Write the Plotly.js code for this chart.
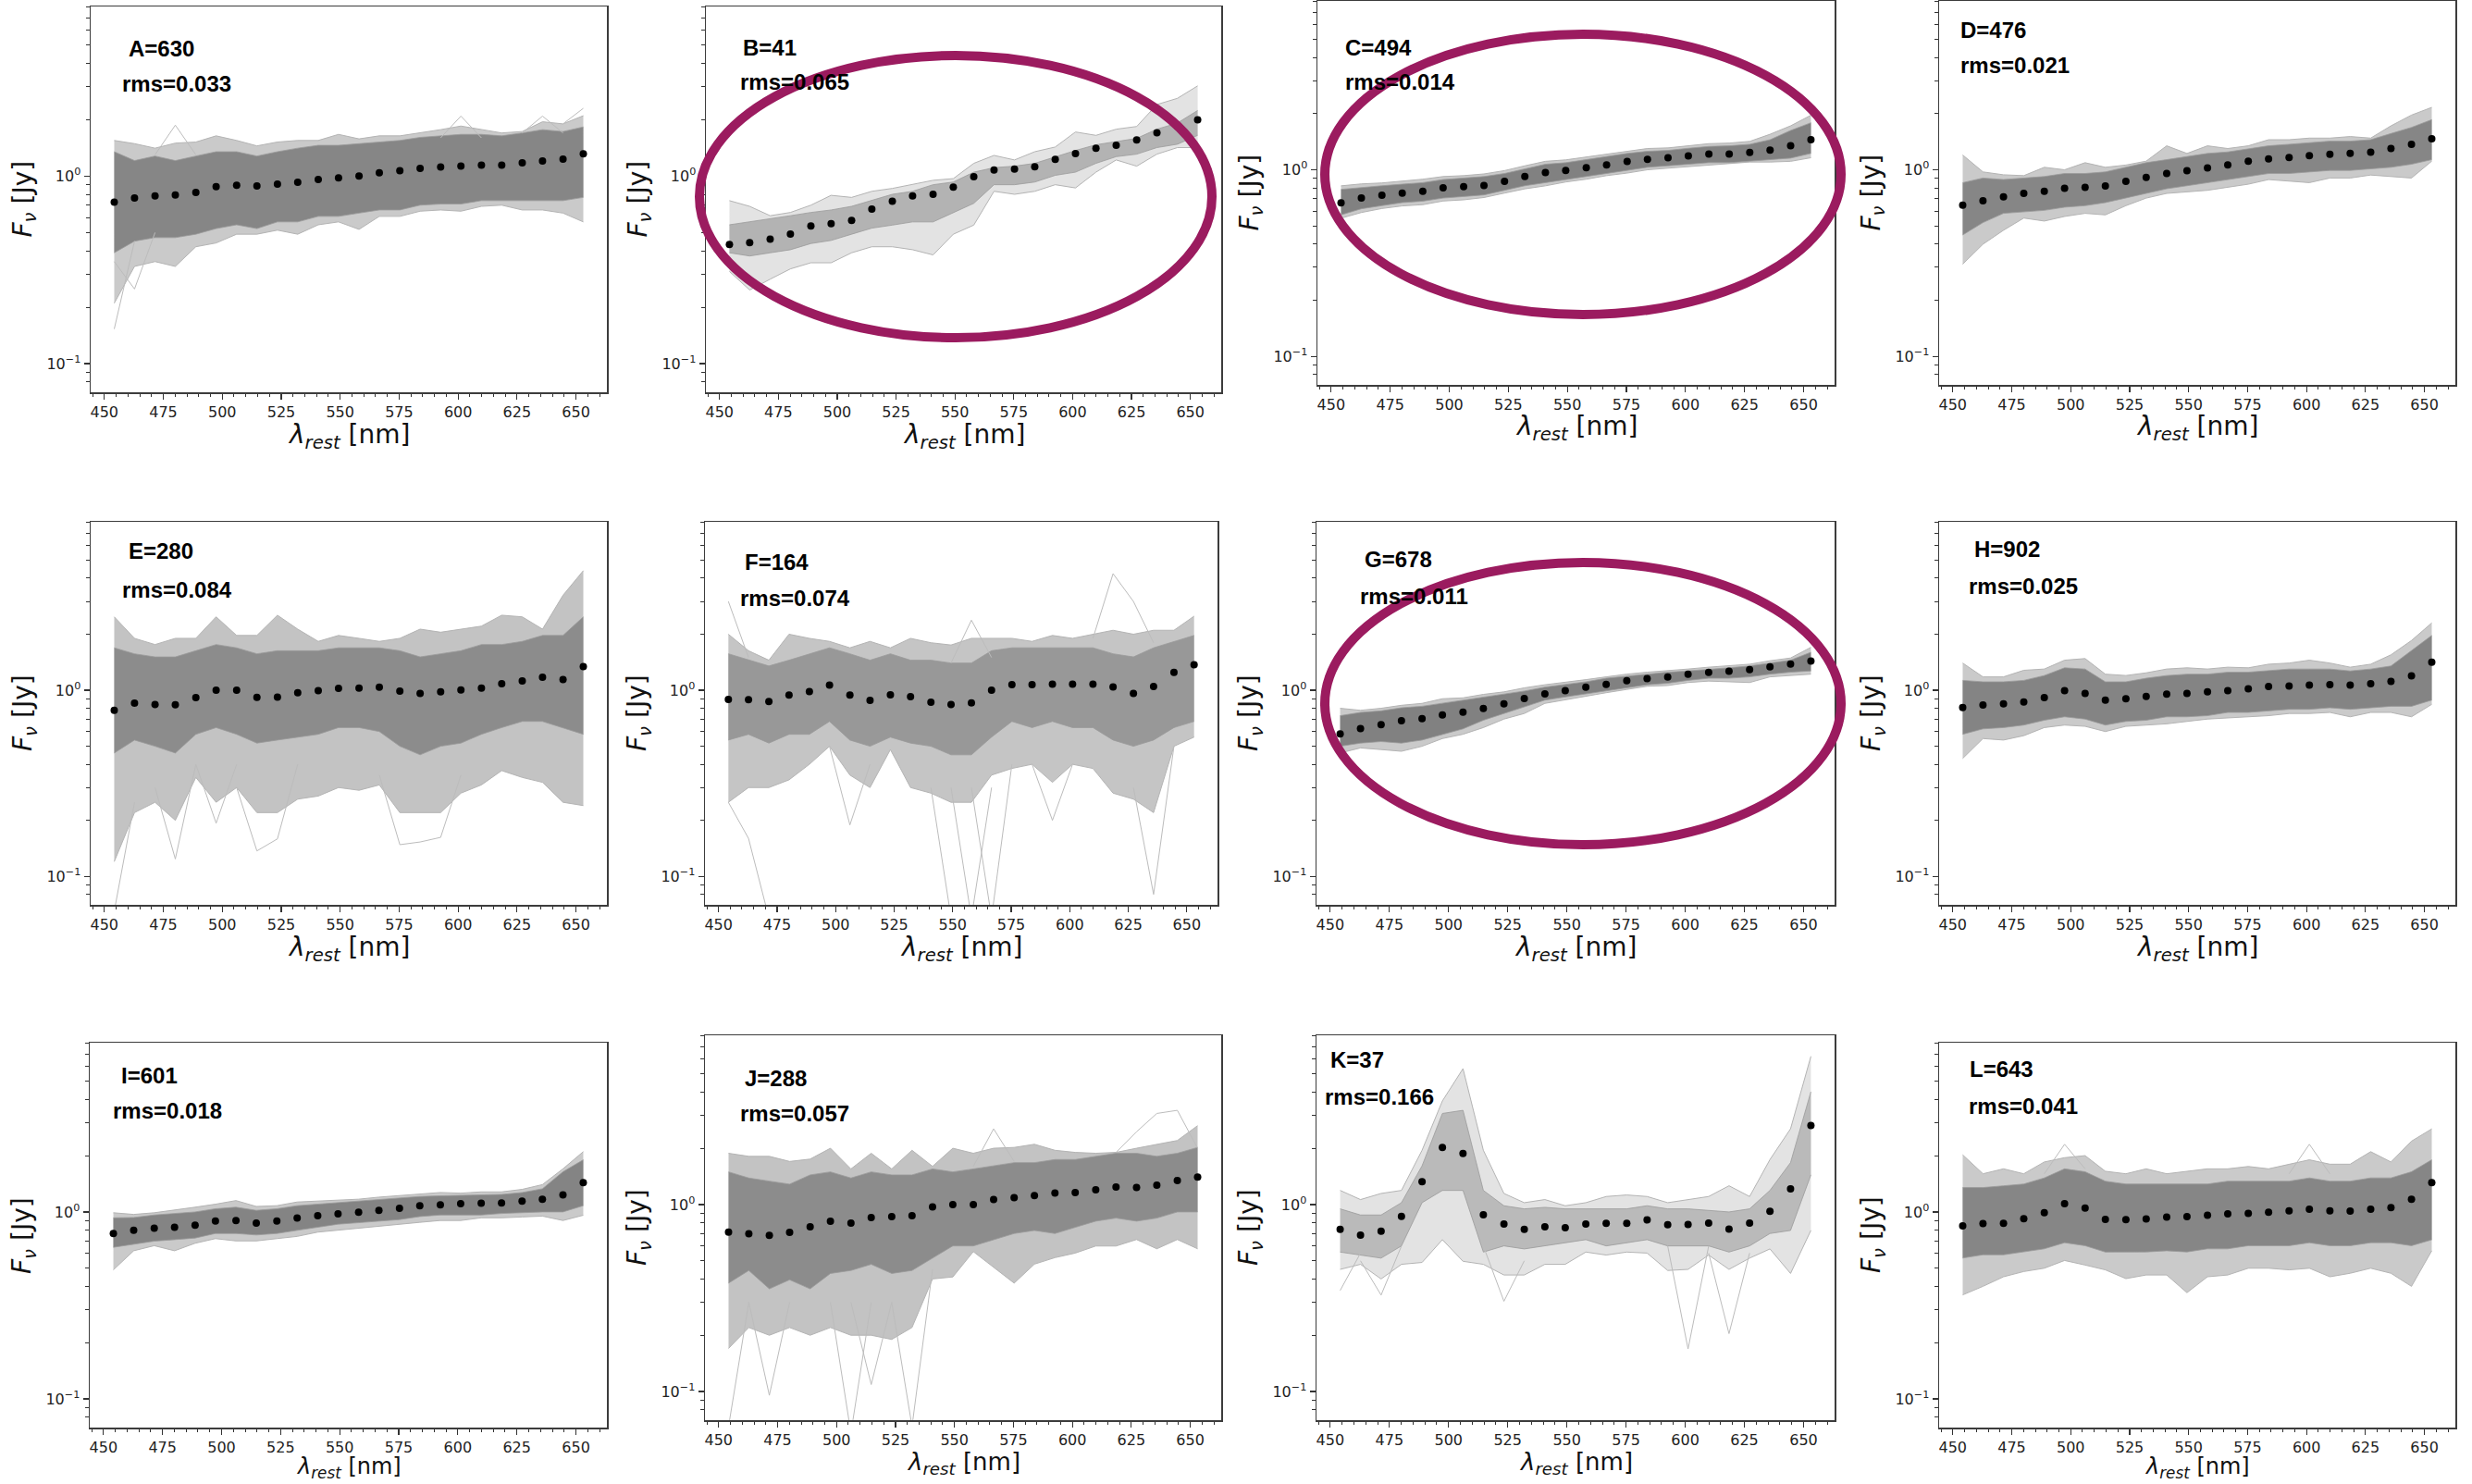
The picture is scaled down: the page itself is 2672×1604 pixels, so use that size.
<!DOCTYPE html>
<html><head><meta charset="utf-8">
<script src="https://cdn.plot.ly/plotly-3.0.1.min.js"></script>
<style>html,body{margin:0;padding:0;background:#fff}#chart{width:2672px;height:1604px}</style>
</head><body><div id="chart"></div>
<script>
// ---------- data ----------
const wl = [454.2,462.8,471.5,480.1,488.8,497.4,506.1,514.7,523.4,532.0,540.7,549.3,558.0,566.6,575.3,583.9,592.6,601.2,609.9,618.5,627.2,635.8,644.5,653.1];

const panelLetters = ['A','B','C','D','E','F','G','H','I','J','K','L'];
const panelCounts = [630,41,494,476,280,164,678,902,601,288,37,643];
const panelRms = ['0.033','0.065','0.014','0.021','0.084','0.074','0.011','0.025','0.018','0.057','0.166','0.041'];

// median spectra (black dots)
const medA = [0.727,0.764,0.785,0.794,0.818,0.879,0.893,0.886,0.906,0.927,0.959,0.978,1.0,1.042,1.07,1.099,1.12,1.133,1.146,1.146,1.177,1.204,1.232,1.314];
const medB = [0.432,0.442,0.461,0.491,0.542,0.557,0.581,0.668,0.735,0.784,0.799,0.873,0.992,1.079,1.091,1.121,1.228,1.319,1.408,1.462,1.560,1.702,1.84,1.996];
const medC = [0.664,0.705,0.730,0.750,0.767,0.800,0.812,0.824,0.866,0.920,0.966,0.992,1.027,1.062,1.108,1.137,1.159,1.186,1.213,1.213,1.237,1.274,1.344,1.449];
const medD = [0.647,0.682,0.716,0.747,0.767,0.796,0.806,0.818,0.866,0.910,0.956,0.989,1.023,1.062,1.112,1.142,1.164,1.19,1.209,1.223,1.242,1.299,1.370,1.466];
const medE = [0.780,0.852,0.839,0.836,0.913,1.0,1.0,0.916,0.919,0.970,0.996,1.023,1.027,1.039,0.989,0.962,0.981,1.004,1.027,1.083,1.121,1.174,1.143,1.341];
const medF = [0.892,0.889,0.869,0.941,0.985,1.067,0.941,0.882,0.944,0.923,0.862,0.839,0.855,1.0,1.071,1.071,1.079,1.079,1.079,1.043,0.962,1.047,1.247,1.372];
const medG = [0.582,0.623,0.653,0.686,0.704,0.737,0.763,0.798,0.846,0.902,0.955,0.996,1.039,1.075,1.126,1.156,1.178,1.219,1.247,1.266,1.291,1.336,1.383,1.436];
const medH = [0.808,0.833,0.846,0.865,0.913,0.996,0.962,0.885,0.899,0.927,0.952,0.962,0.981,0.996,1.019,1.047,1.055,1.067,1.071,1.067,1.083,1.117,1.196,1.415];
const medI = [0.767,0.797,0.818,0.828,0.850,0.893,0.899,0.872,0.893,0.927,0.956,0.977,0.996,1.019,1.046,1.079,1.091,1.108,1.112,1.116,1.142,1.168,1.232,1.433];
const medJ = [0.713,0.697,0.684,0.711,0.761,0.815,0.796,0.853,0.862,0.872,0.970,1.0,1.0,1.063,1.087,1.116,1.151,1.16,1.2,1.241,1.232,1.27,1.344,1.402];
const medK = [0.736,0.687,0.721,0.863,1.324,2.018,1.877,0.882,0.787,0.736,0.761,0.752,0.787,0.793,0.793,0.827,0.779,0.782,0.796,0.738,0.796,0.92,1.213,2.65];
const medL = [0.843,0.866,0.869,0.92,0.992,1.108,1.05,0.913,0.91,0.917,0.938,0.945,0.959,0.977,0.981,0.996,1.015,1.035,1.015,1.011,1.035,1.054,1.168,1.433];

// dense core of the spectra bundle (upper / lower edge)
const coreHiA = [1.35,1.21,1.28,1.21,1.28,1.35,1.35,1.28,1.35,1.41,1.46,1.46,1.49,1.52,1.55,1.61,1.64,1.67,1.67,1.64,1.70,1.77,1.73,1.83];
const coreLoA = [0.39,0.45,0.47,0.47,0.49,0.525,0.55,0.525,0.57,0.57,0.61,0.61,0.635,0.66,0.66,0.70,0.71,0.71,0.74,0.74,0.74,0.74,0.74,0.77];
const coreHiB = [0.55,0.57,0.59,0.615,0.64,0.66,0.69,0.74,0.80,0.83,0.90,0.93,1.05,1.11,1.13,1.17,1.27,1.37,1.47,1.53,1.59,1.78,1.92,2.24];
const coreLoB = [0.39,0.375,0.39,0.405,0.437,0.454,0.49,0.528,0.548,0.57,0.57,0.64,0.716,0.90,0.90,0.93,1.01,1.05,1.17,1.27,1.31,1.42,1.48,1.65];
const coreHiC = [0.785,0.805,0.821,0.837,0.853,0.886,0.903,0.920,0.955,1.011,1.071,1.091,1.133,1.177,1.223,1.256,1.27,1.304,1.334,1.344,1.37,1.449,1.625,1.787];
const coreLoC = [0.573,0.618,0.642,0.667,0.679,0.705,0.719,0.733,0.776,0.821,0.853,0.886,0.920,0.955,0.992,1.031,1.05,1.071,1.091,1.091,1.112,1.133,1.155,1.223];
const coreHiD = [0.853,0.903,0.886,0.903,0.92,0.955,0.955,0.974,1.031,1.091,1.133,1.177,1.223,1.246,1.294,1.344,1.37,1.396,1.423,1.423,1.449,1.564,1.687,1.856];
const coreLoD = [0.447,0.521,0.584,0.595,0.606,0.63,0.642,0.667,0.705,0.747,0.791,0.821,0.853,0.886,0.92,0.955,0.955,0.974,0.992,0.992,1.011,1.031,1.071,1.133];
const coreHiE = [1.69,1.57,1.51,1.51,1.63,1.76,1.69,1.57,1.63,1.63,1.63,1.69,1.69,1.69,1.63,1.51,1.57,1.63,1.76,1.76,1.83,1.97,1.97,2.48];
const coreLoE = [0.46,0.54,0.50,0.46,0.58,0.63,0.58,0.52,0.54,0.56,0.58,0.63,0.63,0.60,0.50,0.45,0.50,0.52,0.58,0.63,0.68,0.68,0.63,0.58];
const coreHiF = [1.57,1.45,1.35,1.45,1.57,1.69,1.57,1.45,1.57,1.45,1.45,1.40,1.40,1.63,1.69,1.69,1.69,1.69,1.69,1.57,1.51,1.69,1.83,1.97];
const coreLoF = [0.54,0.58,0.52,0.58,0.58,0.68,0.54,0.50,0.56,0.52,0.50,0.45,0.45,0.56,0.68,0.63,0.68,0.63,0.63,0.54,0.50,0.54,0.63,0.68];
const coreHiG = [0.73,0.76,0.775,0.805,0.82,0.85,0.885,0.92,0.955,0.99,1.04,1.07,1.11,1.16,1.19,1.22,1.25,1.27,1.30,1.32,1.35,1.40,1.45,1.60];
const coreLoG = [0.50,0.52,0.53,0.52,0.54,0.58,0.62,0.69,0.75,0.82,0.885,0.92,0.955,0.99,1.03,1.07,1.09,1.13,1.16,1.16,1.18,1.22,1.25,1.27];
const coreHiH = [1.13,1.11,1.11,1.13,1.20,1.32,1.30,1.11,1.11,1.16,1.20,1.22,1.22,1.25,1.25,1.27,1.30,1.30,1.30,1.27,1.30,1.35,1.63,1.97];
const coreLoH = [0.58,0.62,0.63,0.65,0.69,0.72,0.70,0.65,0.68,0.69,0.72,0.72,0.73,0.76,0.76,0.775,0.79,0.79,0.805,0.79,0.805,0.82,0.82,0.885];
const coreHiI = [0.93,0.934,0.963,0.98,1.0,1.04,1.06,1.02,1.04,1.08,1.10,1.12,1.14,1.16,1.19,1.21,1.22,1.23,1.23,1.24,1.27,1.33,1.64,1.90];
const coreLoI = [0.647,0.672,0.698,0.711,0.725,0.767,0.767,0.753,0.767,0.797,0.828,0.86,0.876,0.893,0.91,0.945,0.963,0.963,0.963,0.981,0.992,1.0,1.0,1.08];
const coreHiJ = [1.495,1.386,1.334,1.285,1.44,1.495,1.386,1.495,1.44,1.44,1.55,1.495,1.55,1.61,1.675,1.675,1.74,1.74,1.81,1.88,1.88,1.81,1.88,2.02];
const coreLoJ = [0.38,0.444,0.354,0.396,0.354,0.428,0.444,0.479,0.428,0.444,0.517,0.601,0.601,0.649,0.70,0.727,0.70,0.755,0.815,0.846,0.815,0.846,0.913,0.913];
const coreHiK = [0.948,0.879,0.879,1.023,1.61,3.07,3.19,1.19,0.985,0.948,0.966,0.948,0.948,0.948,0.948,0.985,0.948,0.948,0.93,0.913,0.948,1.19,1.675,4.01];
const coreLoK = [0.557,0.537,0.517,0.601,1.023,1.19,1.19,0.557,0.601,0.579,0.601,0.625,0.649,0.601,0.625,0.649,0.601,0.601,0.601,0.557,0.601,0.70,0.727,1.44];
const coreHiL = [1.35,1.35,1.38,1.41,1.52,1.70,1.64,1.46,1.41,1.41,1.41,1.41,1.41,1.46,1.46,1.46,1.46,1.52,1.46,1.46,1.52,1.52,1.64,1.90];
const coreLoL = [0.567,0.59,0.59,0.61,0.635,0.685,0.66,0.61,0.61,0.611,0.62,0.611,0.635,0.635,0.66,0.66,0.66,0.685,0.66,0.66,0.685,0.685,0.66,0.71];

// outer extent of the thinner spectra (upper / lower edge)
const outHiA = [1.55,1.49,1.41,1.50,1.52,1.64,1.55,1.45,1.52,1.55,1.55,1.67,1.58,1.64,1.64,1.70,1.77,1.85,1.77,1.70,1.73,1.95,1.90,2.10];
const outLoA = [0.21,0.33,0.35,0.33,0.42,0.44,0.49,0.49,0.515,0.49,0.55,0.57,0.52,0.61,0.61,0.65,0.66,0.65,0.69,0.70,0.66,0.66,0.635,0.57];
const outHiB = [0.74,0.69,0.615,0.64,0.70,0.79,0.77,0.83,0.86,0.90,0.95,0.97,1.17,1.29,1.22,1.35,1.43,1.72,1.65,1.78,1.84,2.41,2.60,3.03];
const outLoB = [0.31,0.247,0.282,0.32,0.345,0.345,0.39,0.42,0.42,0.405,0.38,0.49,0.548,0.83,0.80,0.83,0.90,0.865,1.05,1.22,1.13,1.31,1.42,1.42];
const outHiC = [0.82,0.84,0.85,0.87,0.89,0.92,0.93,0.95,0.99,1.05,1.11,1.13,1.17,1.21,1.26,1.30,1.31,1.35,1.38,1.39,1.42,1.55,1.72,1.96];
const outLoC = [0.55,0.59,0.62,0.64,0.65,0.68,0.69,0.71,0.75,0.79,0.82,0.86,0.89,0.93,0.96,1.00,1.02,1.04,1.06,1.08,1.10,1.10,1.11,1.16];
const outHiD = [1.20,0.974,0.94,0.93,1.031,1.0,1.091,1.031,1.06,1.112,1.344,1.223,1.344,1.30,1.344,1.449,1.449,1.478,1.478,1.507,1.478,1.72,1.964,2.16];
const outLoD = [0.312,0.399,0.474,0.551,0.531,0.562,0.584,0.573,0.642,0.705,0.747,0.761,0.776,0.806,0.837,0.886,0.869,0.853,0.903,0.903,0.937,0.92,0.903,1.112];
const outHiE = [2.48,1.90,1.76,1.90,1.90,2.48,1.97,1.97,2.53,2.13,1.83,1.97,1.90,1.83,1.90,2.13,2.05,2.13,2.21,2.53,2.48,2.13,3.24,4.39];
const outLoE = [0.12,0.22,0.25,0.20,0.34,0.25,0.30,0.22,0.22,0.26,0.27,0.30,0.29,0.31,0.22,0.22,0.22,0.28,0.31,0.37,0.34,0.32,0.25,0.24];
const outHiF = [2.0,1.63,1.45,2.0,1.90,1.83,1.69,1.83,1.69,1.9,1.8,1.75,1.9,1.90,1.90,1.83,1.97,1.90,2.0,2.1,2.0,2.1,2.1,2.5];
const outLoF = [0.25,0.30,0.30,0.33,0.40,0.50,0.35,0.30,0.48,0.30,0.28,0.25,0.25,0.35,0.38,0.40,0.32,0.40,0.38,0.28,0.26,0.22,0.50,0.56];
const outHiG = [0.80,0.78,0.80,0.83,0.85,0.90,0.91,0.95,0.98,1.03,1.07,1.10,1.14,1.18,1.22,1.25,1.28,1.30,1.33,1.35,1.38,1.44,1.49,1.70];
const outLoG = [0.46,0.49,0.48,0.47,0.50,0.55,0.58,0.63,0.70,0.75,0.85,0.89,0.93,0.97,1.01,1.05,1.06,1.10,1.12,1.11,1.10,1.18,1.20,1.22];
const outHiH = [1.40,1.18,1.18,1.28,1.30,1.45,1.48,1.22,1.20,1.24,1.30,1.32,1.30,1.33,1.32,1.38,1.40,1.45,1.40,1.33,1.38,1.55,1.85,2.30];
const outLoH = [0.43,0.55,0.54,0.57,0.63,0.65,0.64,0.60,0.64,0.65,0.66,0.68,0.70,0.71,0.72,0.73,0.75,0.75,0.76,0.72,0.76,0.76,0.72,0.84];
const outHiI = [0.99,0.97,0.99,1.02,1.06,1.10,1.15,1.07,1.08,1.13,1.14,1.15,1.17,1.20,1.22,1.25,1.27,1.26,1.28,1.28,1.32,1.40,1.70,2.10];
const outLoI = [0.49,0.62,0.66,0.62,0.68,0.72,0.70,0.70,0.72,0.74,0.78,0.80,0.82,0.84,0.86,0.88,0.90,0.90,0.93,0.93,0.94,0.95,0.90,0.96];
const outHiJ = [1.88,1.81,1.81,1.70,1.75,2.0,1.55,1.88,1.55,1.95,1.6,2.0,1.88,2.0,2.02,2.1,1.95,1.90,1.88,1.90,2.0,2.1,2.2,2.64];
const outLoJ = [0.17,0.22,0.20,0.22,0.20,0.22,0.20,0.20,0.19,0.22,0.40,0.41,0.56,0.46,0.38,0.48,0.52,0.55,0.60,0.60,0.65,0.58,0.65,0.58];
const outHiK = [1.19,1.063,1.146,1.19,1.95,3.58,5.33,1.95,1.146,1.023,1.063,0.985,1.023,1.104,1.125,1.104,1.023,1.063,1.104,1.26,1.104,1.74,2.54,6.2];
const outLoK = [0.45,0.479,0.40,0.479,0.49,0.649,0.497,0.479,0.42,0.42,0.479,0.479,0.557,0.537,0.557,0.55,0.444,0.45,0.537,0.45,0.517,0.579,0.428,0.727];
const outHiL = [2.02,1.60,1.70,1.60,1.85,1.95,2.0,1.65,1.60,1.70,1.60,1.65,1.70,1.70,1.75,1.70,1.80,1.90,1.80,1.80,2.10,1.85,2.39,2.78];
const outLoL = [0.36,0.40,0.45,0.48,0.50,0.55,0.52,0.49,0.44,0.46,0.46,0.37,0.45,0.46,0.50,0.50,0.49,0.50,0.45,0.47,0.50,0.47,0.40,0.62];

// isolated outlier spectra segments (x, y; null separates segments)
const spikeXA = [454.2,462.8,null,454.2,462.8,471.5,null,471.5,480.1,488.8,null,592.6,601.2,609.9,null,627.2,635.8,644.5,null,644.5,653.1];
const spikeYA = [0.153,0.45,null,0.35,0.25,0.5,null,1.3,1.87,1.3,null,1.6,2.09,1.6,null,1.7,2.09,1.7,null,1.9,2.3];
const spikeXE = [454.2,462.8,null,471.5,480.1,488.8,null,506.1,514.7,523.4,532.0,null,566.6,575.3,583.9,592.6,601.2,null,488.8,497.4,506.1];
const spikeYE = [0.065,0.25,null,0.30,0.124,0.40,null,0.30,0.137,0.159,0.40,null,0.35,0.148,0.153,0.162,0.35,null,0.4,0.193,0.4];
const spikeXF = [454.2,462.8,471.5,null,540.7,549.3,null,549.3,558.0,566.6,null,558.0,566.6,575.3,null,627.2,635.8,644.5,null,609.9,618.5,627.2,635.8,null,454.2,462.8,null,549.3,558.0,566.6,null,497.4,506.1,514.7,null,583.9,592.6,601.2];
const spikeYF = [0.25,0.16,0.06,null,0.3,0.06,null,0.3,0.06,0.3,null,0.3,0.06,0.4,null,0.3,0.08,0.5,null,1.9,4.23,3.0,1.8,null,3.0,1.5,null,1.4,2.38,1.5,null,0.5,0.189,0.4,null,0.4,0.20,0.4];
const spikeXJ = [454.2,462.8,null,462.8,471.5,480.1,null,497.4,506.1,514.7,null,506.1,514.7,523.4,null,523.4,532.0,540.7,null,618.5,627.2,635.8,644.5,653.1,null,558.0,566.6,575.3];
const spikeYJ = [0.065,0.3,null,0.3,0.0955,0.3,null,0.3,0.06,0.3,null,0.3,0.109,0.3,null,0.3,0.065,0.45,null,1.9,2.45,3.07,3.19,2.0,null,1.6,2.54,1.7];
const spikeXK = [592.6,601.2,609.9,null,609.9,618.5,627.2,null,514.7,523.4,532.0,null,462.8,471.5,480.1,null,454.2,462.8];
const spikeYK = [0.6,0.169,0.6,null,0.55,0.204,0.55,null,0.6,0.304,0.5,null,0.5,0.328,0.6,null,0.347,0.55];
const spikeXL = [592.6,601.2,609.9,null,488.8,497.4,506.1];
const spikeYL = [1.6,2.3,1.6,null,1.6,2.3,1.7];

const yTickVals = [0.1, 1];
const yTickText = ['10<sup>\u22121</sup>', '10<sup>0</sup>'];
const yMinorVals = [0.08,0.09,0.2,0.3,0.4,0.5,0.6,0.7,0.8,0.9,2,3,4,5,6,7,8];

// ---------- assembly ----------
const medians = [medA,medB,medC,medD,medE,medF,medG,medH,medI,medJ,medK,medL];
const coreHis = [coreHiA,coreHiB,coreHiC,coreHiD,coreHiE,coreHiF,coreHiG,coreHiH,coreHiI,coreHiJ,coreHiK,coreHiL];
const coreLos = [coreLoA,coreLoB,coreLoC,coreLoD,coreLoE,coreLoF,coreLoG,coreLoH,coreLoI,coreLoJ,coreLoK,coreLoL];
const outHis = [outHiA,outHiB,outHiC,outHiD,outHiE,outHiF,outHiG,outHiH,outHiI,outHiJ,outHiK,outHiL];
const outLos = [outLoA,outLoB,outLoC,outLoD,outLoE,outLoF,outLoG,outLoH,outLoI,outLoJ,outLoK,outLoL];
const spikesX = [spikeXA,[],[],[],spikeXE,spikeXF,[],[],[],spikeXJ,spikeXK,spikeXL];
const spikesY = [spikeYA,[],[],[],spikeYE,spikeYF,[],[],[],spikeYJ,spikeYK,spikeYL];

// layout geometry (pixels): [left, right, top, bottom]
const W = 2672, H = 1604;
const boxes = [[98,656,7,424],[763,1320,7,424],[1424,1983,1,416],[2096,2654,1,416],
               [98,656,564,978],[762,1316,564,978],[1423,1983,564,978],[2096,2654,564,978],
               [97,656,1127,1543],[762,1320,1119,1535],[1423,1983,1119,1535],[2096,2654,1127,1543]];
// [labelX, labelY, rmsX, rmsY]
const labelPos = [[137,53,130,90],[801,52,798,88],[1452,52,1452,88],[2117,33,2117,70],
                  [137,595,130,637],[803,608,798,647],[1473,605,1468,645],[2132,593,2126,633],
                  [129,1162,120,1200],[803,1165,798,1203],[1436,1145,1430,1185],[2127,1155,2126,1195]];
const coreFill = ['#868686','rgba(140,140,140,0.55)','#818181','#868686','rgba(128,128,128,0.82)','rgba(135,135,135,0.72)',
                  '#818181','#848484','#848484','rgba(128,128,128,0.82)','rgba(145,145,145,0.5)','#868686'];
const outFill = ['rgba(150,150,150,0.5)','rgba(185,185,185,0.4)','rgba(150,150,150,0.5)','rgba(150,150,150,0.5)',
                 'rgba(145,145,145,0.55)','rgba(150,150,150,0.55)','rgba(150,150,150,0.5)','rgba(150,150,150,0.5)',
                 'rgba(150,150,150,0.5)','rgba(145,145,145,0.55)','rgba(185,185,185,0.4)','rgba(150,150,150,0.5)'];

const traces = [];
const layout = {
  width: W, height: H, margin: {l:0,r:0,t:0,b:0},
  paper_bgcolor: '#ffffff', plot_bgcolor: '#ffffff', showlegend: false,
  annotations: [], shapes: []
};
const px = v => v / W, py = v => 1 - v / H;

for (let k = 0; k < 12; k++) {
  const n = k + 1;
  const xa = 'x' + n, ya = 'y' + n;
  const [l, r, t, b] = boxes[k];
  const lightLine = {color: '#b4b4b4', width: 1};
  traces.push({x: wl, y: outLos[k], xaxis: xa, yaxis: ya, mode: 'lines', line: lightLine, hoverinfo: 'skip'});
  traces.push({x: wl, y: outHis[k], xaxis: xa, yaxis: ya, mode: 'lines', line: lightLine, fill: 'tonexty', fillcolor: outFill[k], hoverinfo: 'skip'});
  traces.push({x: wl, y: coreLos[k], xaxis: xa, yaxis: ya, mode: 'lines', line: {color: '#9a9a9a', width: 0.8}, hoverinfo: 'skip'});
  traces.push({x: wl, y: coreHis[k], xaxis: xa, yaxis: ya, mode: 'lines', line: {color: '#9a9a9a', width: 0.8}, fill: 'tonexty', fillcolor: coreFill[k], hoverinfo: 'skip'});
  if (spikesX[k].length) {
    traces.push({x: spikesX[k], y: spikesY[k], xaxis: xa, yaxis: ya, mode: 'lines', connectgaps: false, line: {color: '#bcbcbc', width: 1}, hoverinfo: 'skip'});
  }
  traces.push({x: wl, y: medians[k], xaxis: xa, yaxis: ya, mode: 'markers', marker: {color: '#000', size: 8}, hoverinfo: 'skip'});

  const suffix = n === 1 ? '' : String(n);
  layout['xaxis' + suffix] = {
    domain: [px(l), px(r)], anchor: ya, range: [444.2, 663.1],
    tickmode: 'linear', tick0: 450, dtick: 25,
    ticks: 'outside', ticklen: 6, tickwidth: 1.2, tickcolor: '#333',
    minor: {dtick: 5, tick0: 450, ticks: 'outside', ticklen: 3.5, tickwidth: 1, tickcolor: '#333'},
    showline: true, mirror: true, linecolor: '#3c3c3c', linewidth: 1.5,
    showgrid: false, zeroline: false,
    tickfont: {family: 'DejaVu Sans', size: 16, color: '#222'}
  };
  layout['yaxis' + suffix] = {
    domain: [py(b), py(t)], anchor: xa, type: 'log', range: [-1.153, 0.905],
    tickmode: 'array', tickvals: yTickVals, ticktext: yTickText,
    ticks: 'outside', ticklen: 6, tickwidth: 1.2, tickcolor: '#333',
    minor: {tickmode: 'array', tickvals: yMinorVals, ticks: 'outside', ticklen: 3.5, tickwidth: 1, tickcolor: '#333'},
    showline: true, mirror: true, linecolor: '#3c3c3c', linewidth: 1.5,
    showgrid: false, zeroline: false,
    tickfont: {family: 'DejaVu Sans', size: 16, color: '#222'}
  };

  const [lx, ly, rx, ry] = labelPos[k];
  const boldFont = {family: 'Liberation Sans, Arial, sans-serif', size: 24, color: '#000'};
  layout.annotations.push({xref: 'paper', yref: 'paper', x: px(lx), y: py(ly), xanchor: 'left', yanchor: 'middle',
    text: '<b>' + panelLetters[k] + '=' + panelCounts[k] + '</b>', showarrow: false, font: boldFont});
  layout.annotations.push({xref: 'paper', yref: 'paper', x: px(rx), y: py(ry), xanchor: 'left', yanchor: 'middle',
    text: '<b>rms=' + panelRms[k] + '</b>', showarrow: false, font: boldFont});
  let tOff = 47, tSize = 28;
  if (b > 1540) { tOff = 43; tSize = 24; } else if (b > 1500) { tOff = 46; tSize = 26; }
  layout.annotations.push({xref: 'paper', yref: 'paper', x: px((l + r) / 2), y: py(b + tOff), xanchor: 'center', yanchor: 'middle',
    text: '<i>\u03bb</i><sub><i>rest</i></sub> [nm]', showarrow: false, borderpad: 0,
    font: {family: 'DejaVu Sans', size: tSize, color: '#111'}});
  layout.annotations.push({xref: 'paper', yref: 'paper', x: px(l - 72), y: py((t + b) / 2), xanchor: 'center', yanchor: 'middle',
    textangle: -90, text: '<i>F</i><sub><i>\u03bd</i></sub> [Jy]', showarrow: false,
    font: {family: 'DejaVu Sans', size: 28, color: '#111'}});
}

// highlight ellipses (pixels: x0, x1, y0, y1)
const ellipses = [[756,1310,60,365],[1432,1990,37,340],[1432,1990,608,913]];
ellipses.forEach(e => {
  layout.shapes.push({type: 'circle', xref: 'paper', yref: 'paper',
    x0: px(e[0]), x1: px(e[1]), y0: py(e[3]), y1: py(e[2]),
    line: {color: '#9b1b5f', width: 10}, fillcolor: 'rgba(0,0,0,0)', layer: 'above'});
});

Plotly.newPlot('chart', traces, layout, {displayModeBar: false, staticPlot: true});
</script></body></html>
